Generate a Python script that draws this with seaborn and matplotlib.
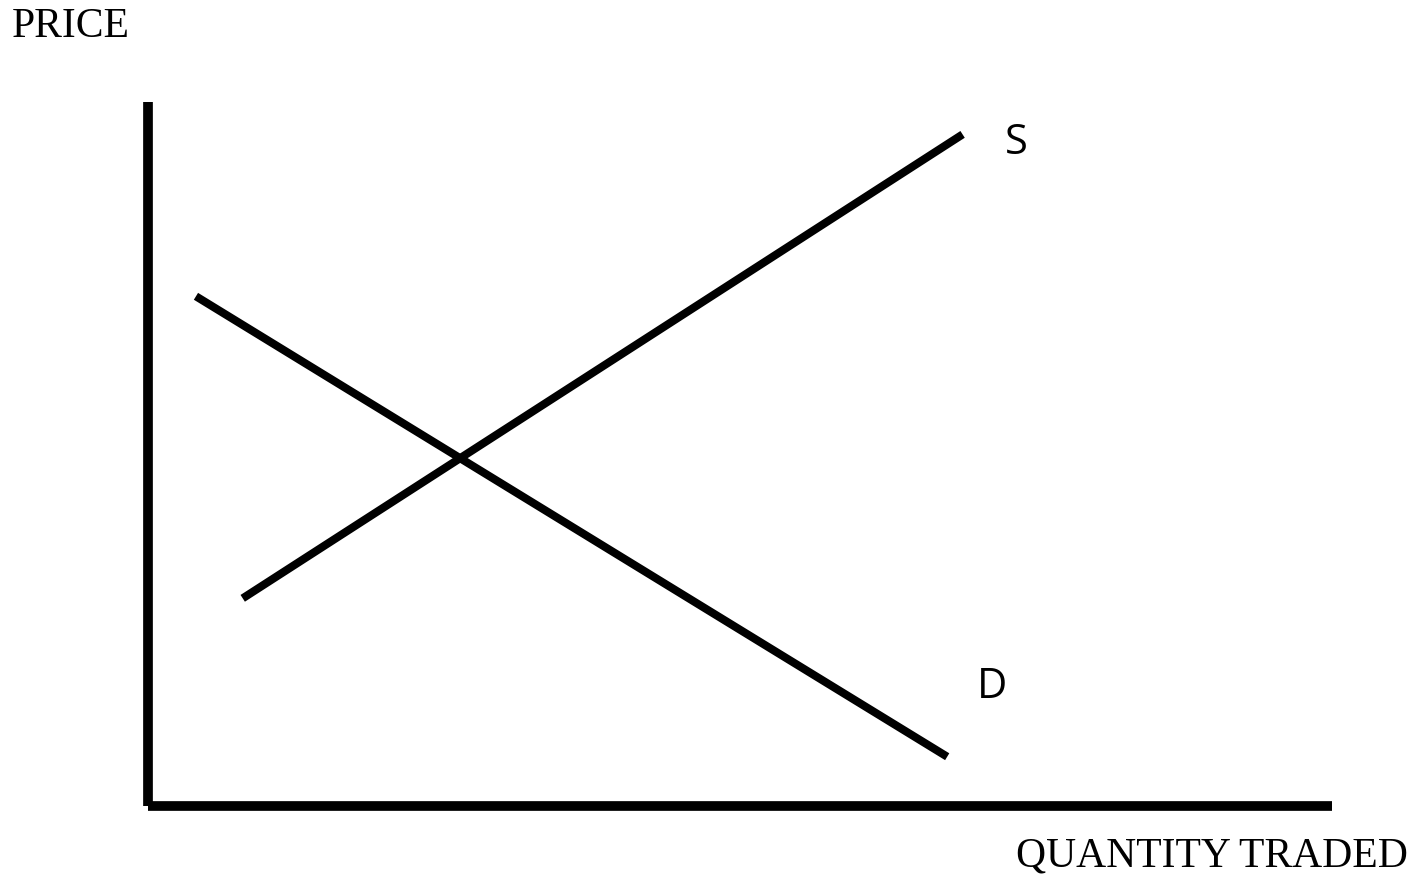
import numpy as np
import pandas as pd
import seaborn as sns
import matplotlib.pyplot as plt

# curve end points (quantity, price) on a 0-100 scale
supply_q = [8.0, 68.8]
supply_p = [29.5, 95.4]
demand_q = [4.05, 67.5]
demand_p = [72.4, 7.0]

curve_labels = ["S", "D"]
label_q = [72.4, 70.0]
label_p = [92.8, 15.5]

df = pd.DataFrame({
    "quantity": supply_q + demand_q,
    "price": supply_p + demand_p,
    "curve": ["S"] * len(supply_q) + ["D"] * len(demand_q),
})

sns.set_style("white")
plt.rcParams["font.family"] = ["Liberation Serif", "DejaVu Serif"]

fig = plt.figure(figsize=(14.18, 8.78), dpi=100)
# axes box: x 148..1332 px, y 103..807 px
ax = fig.add_axes([148 / 1418, 1 - 807 / 878, 1184 / 1418, 704 / 878])

sns.lineplot(data=df, x="quantity", y="price", hue="curve",
             palette={"S": "black", "D": "black"}, linewidth=5.8,
             legend=False, solid_capstyle="butt", clip_on=False, ax=ax)

ax.set_xlim(0, 100)
ax.set_ylim(0, 100)
ax.set_xticks([])
ax.set_yticks([])
ax.set_xlabel("")
ax.set_ylabel("")
for side in ["top", "right"]:
    ax.spines[side].set_visible(False)
for side in ["left", "bottom"]:
    ax.spines[side].set_color("black")
    ax.spines[side].set_linewidth(7)
    ax.spines[side].set_capstyle("butt")

# curve labels in a sans face
for lab, q, p in zip(curve_labels, label_q, label_p):
    ax.text(q, p, lab, fontsize=30, family=["Open Sans", "DejaVu Sans"],
            ha="left", va="baseline", color="black")

fig.text(12 / 1418, 1 - 37 / 878, "PRICE", fontsize=30,
         ha="left", va="baseline", color="black")
fig.text(1408 / 1418, 1 - 867 / 878, "QUANTITY TRADED", fontsize=30,
         ha="right", va="baseline", color="black")

fig.savefig("out.png", dpi=100)
